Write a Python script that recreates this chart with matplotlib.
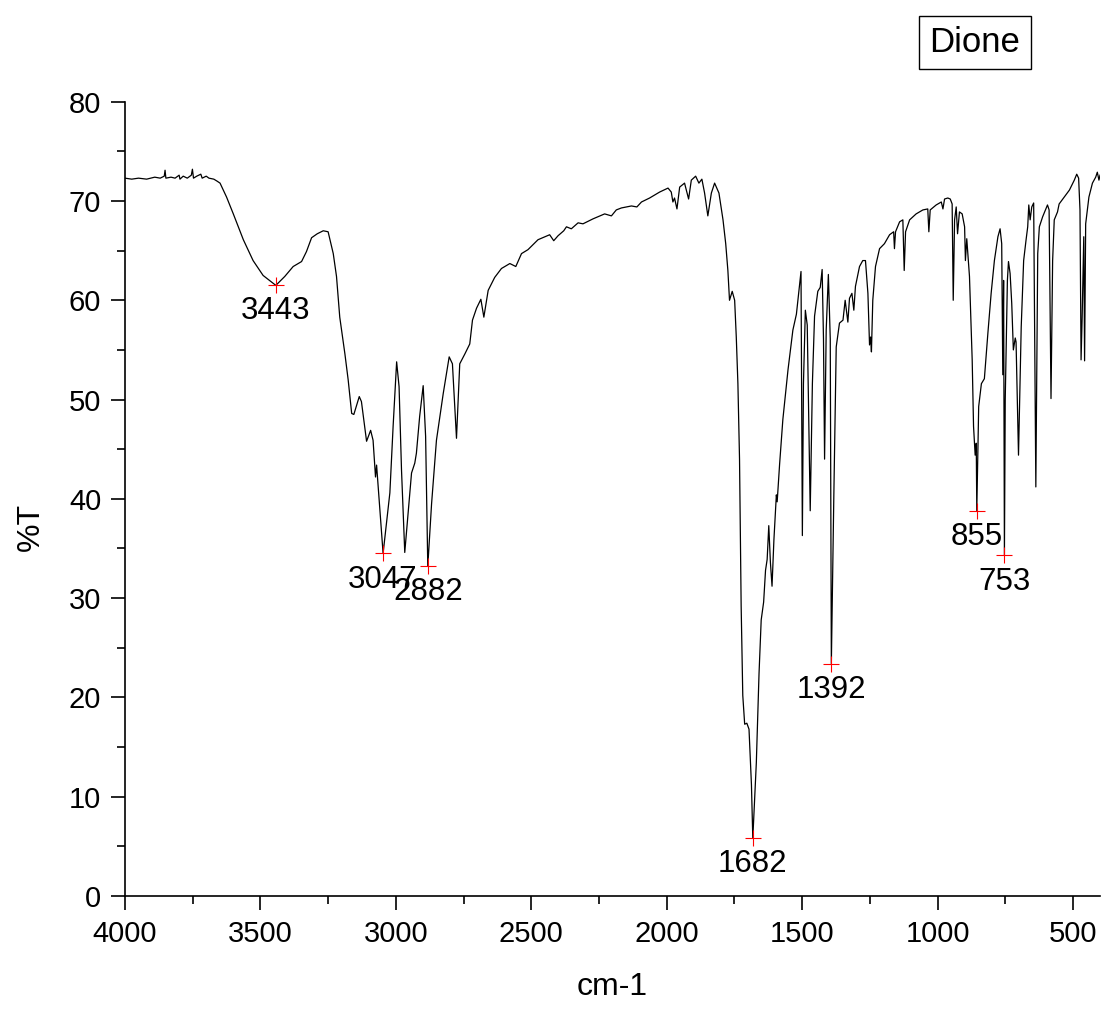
#!/usr/bin/env python3

import matplotlib
matplotlib.use("Agg")
import matplotlib.pyplot as plt
from matplotlib.ticker import MultipleLocator

plt.rcParams["font.family"] = ["Liberation Sans", "DejaVu Sans"]

# IR spectrum (wavenumber cm-1, %T)
wavenumber = [
    4000, 3975, 3950, 3920, 3890, 3870, 3855, 3852, 3849, 3830, 3815, 3800,
    3797, 3785, 3770, 3755, 3751, 3747, 3735, 3720, 3715, 3700, 3690, 3672,
    3660, 3649, 3625, 3600, 3563, 3527, 3490, 3443, 3410, 3379, 3348, 3330,
    3311, 3290, 3268, 3250, 3231, 3219, 3207, 3188, 3176, 3163, 3155, 3135,
    3127, 3108, 3093, 3084, 3075, 3071, 3065, 3047, 3022, 3010, 2997, 2988,
    2979, 2967, 2955, 2942, 2930, 2924, 2912, 2899, 2890, 2882, 2868, 2850,
    2825, 2803, 2791, 2776, 2764, 2745, 2727, 2717, 2702, 2686, 2675, 2659,
    2635, 2610, 2579, 2557, 2536, 2512, 2475, 2432, 2417, 2401, 2380, 2370,
    2352, 2327, 2309, 2272, 2229, 2204, 2186, 2167, 2130, 2110, 2093, 2063,
    2026, 1995, 1983, 1977, 1971, 1962, 1952, 1934, 1919, 1909, 1893, 1881,
    1870, 1860, 1848, 1835, 1823, 1807, 1792, 1782, 1774, 1768, 1758, 1749,
    1743, 1737, 1731, 1725, 1719, 1712, 1704, 1696, 1687, 1682, 1669, 1659,
    1651, 1642, 1635, 1629, 1623, 1617, 1611, 1604, 1595, 1592, 1583, 1571,
    1552, 1534, 1521, 1513, 1504, 1499, 1495, 1488, 1481, 1470, 1462, 1454,
    1442, 1433, 1426, 1421, 1417, 1411, 1403, 1396, 1392, 1383, 1374, 1362,
    1349, 1341, 1331, 1325, 1316, 1309, 1303, 1288, 1276, 1266, 1257, 1251,
    1247, 1244, 1239, 1229, 1214, 1196, 1177, 1162, 1159, 1155, 1140, 1128,
    1123, 1118, 1103, 1079, 1054, 1036, 1032, 1027, 1005, 986, 980, 974,
    962, 953, 946, 942, 937, 931, 926, 919, 909, 900, 897, 892,
    882, 872, 867, 861, 857, 855, 848, 838, 827, 814, 802, 790,
    777, 769, 763, 759, 756, 753, 750, 742, 738, 732, 726, 720,
    713, 710, 701, 691, 682, 673, 667, 663, 658, 652, 645, 637,
    630, 624, 612, 594, 588, 581, 575, 569, 557, 551, 532, 513,
    495, 486, 479, 474, 470, 466, 460, 457, 453, 441, 428, 416,
    410, 404, 400,
]
transmittance = [
    72.3, 72.2, 72.3, 72.2, 72.4, 72.3, 72.5, 73.1, 72.3, 72.4, 72.3, 72.6,
    72.2, 72.5, 72.3, 72.6, 73.2, 72.3, 72.5, 72.7, 72.3, 72.5, 72.3, 72.2,
    72.0, 71.8, 70.4, 68.7, 66.1, 64.0, 62.5, 61.5, 62.4, 63.4, 63.9, 64.9,
    66.3, 66.7, 67.0, 66.9, 64.7, 62.4, 58.3, 54.6, 52.0, 48.6, 48.5, 50.3,
    49.8, 45.8, 46.9, 45.9, 42.2, 43.4, 41.2, 34.5, 40.6, 47.3, 53.8, 51.3,
    42.9, 34.6, 38.5, 42.6, 43.6, 44.6, 48.3, 51.4, 46.3, 33.2, 39.5, 45.9,
    50.6, 54.3, 53.6, 46.1, 53.6, 54.6, 55.6, 58.0, 59.2, 60.1, 58.3, 61.0,
    62.3, 63.2, 63.7, 63.4, 64.7, 65.1, 66.1, 66.6, 66.0, 66.5, 67.0, 67.4,
    67.2, 67.8, 67.7, 68.2, 68.7, 68.5, 69.1, 69.3, 69.5, 69.4, 69.9, 70.3,
    70.9, 71.3, 70.9, 69.9, 70.3, 69.2, 71.4, 71.8, 70.2, 72.1, 72.5, 71.8,
    72.2, 70.8, 68.5, 70.8, 71.8, 70.8, 68.1, 65.7, 63.0, 60.0, 60.9, 60.0,
    56.3, 51.6, 44.0, 29.2, 20.2, 17.3, 17.4, 16.8, 11.2, 5.8, 13.4, 22.4,
    27.8, 29.6, 32.8, 33.9, 37.3, 33.6, 31.2, 35.9, 40.4, 39.7, 43.5, 48.0,
    53.0, 57.0, 58.6, 60.6, 62.9, 36.3, 51.6, 59.0, 57.5, 38.8, 51.6, 58.4,
    60.9, 61.3, 63.1, 56.1, 44.0, 57.0, 62.6, 56.1, 23.4, 40.0, 55.3, 57.7,
    58.0, 60.0, 57.8, 60.2, 60.7, 59.0, 61.4, 63.4, 64.0, 64.0, 60.7, 55.5,
    56.3, 54.8, 60.0, 63.4, 65.2, 65.7, 66.6, 66.9, 65.2, 66.9, 67.9, 68.1,
    63.0, 66.9, 68.1, 68.7, 69.1, 69.2, 66.9, 69.1, 69.6, 69.9, 69.2, 70.2,
    70.3, 70.2, 69.7, 60.0, 68.1, 69.4, 66.7, 68.9, 68.7, 67.4, 64.0, 66.2,
    62.4, 54.0, 47.3, 44.4, 45.6, 38.8, 49.3, 51.6, 52.1, 56.7, 60.7, 64.0,
    66.4, 67.2, 65.7, 52.5, 62.0, 34.3, 50.0, 62.0, 63.9, 62.7, 59.7, 55.0,
    56.2, 55.8, 44.4, 57.3, 64.0, 66.1, 67.4, 69.6, 68.1, 69.4, 69.8, 41.2,
    64.7, 67.4, 68.4, 69.6, 69.1, 50.1, 64.0, 68.1, 68.9, 69.7, 70.4, 71.1,
    72.1, 72.7, 72.3, 69.1, 54.0, 58.3, 66.4, 53.9, 67.7, 70.4, 71.8, 72.4,
    72.9, 72.1, 72.6,
]

# labelled peaks
peak_wn = [3443, 3047, 2882, 1682, 1392, 855, 753]
peak_t = [61.5, 34.5, 33.2, 5.8, 23.4, 38.8, 34.3]
peak_labels = ["3443", "3047", "2882", "1682", "1392", "855", "753"]

fig = plt.figure(figsize=(11.04, 10.10), dpi=100)
ax = fig.add_axes([0.1132, 0.1129, 0.8832, 0.7864])

ax.plot(wavenumber, transmittance, color="black", linewidth=0.9)
ax.plot(peak_wn, peak_t, linestyle="none", marker="+", markersize=11,
        markeredgewidth=0.8, color="red")
for x, y, s in zip(peak_wn, peak_t, peak_labels):
    ax.annotate(s, (x, y), xytext=(0, -8), textcoords="offset points",
                ha="center", va="top", fontsize=22.5)

ax.set_xlim(4000, 400)
ax.set_ylim(0, 80)
ax.xaxis.set_major_locator(MultipleLocator(500))
ax.xaxis.set_minor_locator(MultipleLocator(250))
ax.yaxis.set_major_locator(MultipleLocator(10))
ax.yaxis.set_minor_locator(MultipleLocator(5))

for side in ("top", "right"):
    ax.spines[side].set_visible(False)
for side in ("left", "bottom"):
    ax.spines[side].set_linewidth(1.2)

ax.tick_params(which="major", direction="out", length=10, width=1.2,
               labelsize=21, pad=7)
ax.tick_params(which="minor", direction="out", length=5.5, width=1.2)

ax.set_xlabel("cm-1", fontsize=23)
ax.xaxis.set_label_coords(0.5, -0.096)
ax.set_ylabel("%T", fontsize=23)
ax.yaxis.set_label_coords(-0.081, 0.465)

fig.text(0.883, 0.958, "Dione", ha="center", va="center", fontsize=25,
         bbox=dict(boxstyle="square,pad=0.3", facecolor="white",
                   edgecolor="black", linewidth=1))

fig.savefig("out.png", dpi=100)
